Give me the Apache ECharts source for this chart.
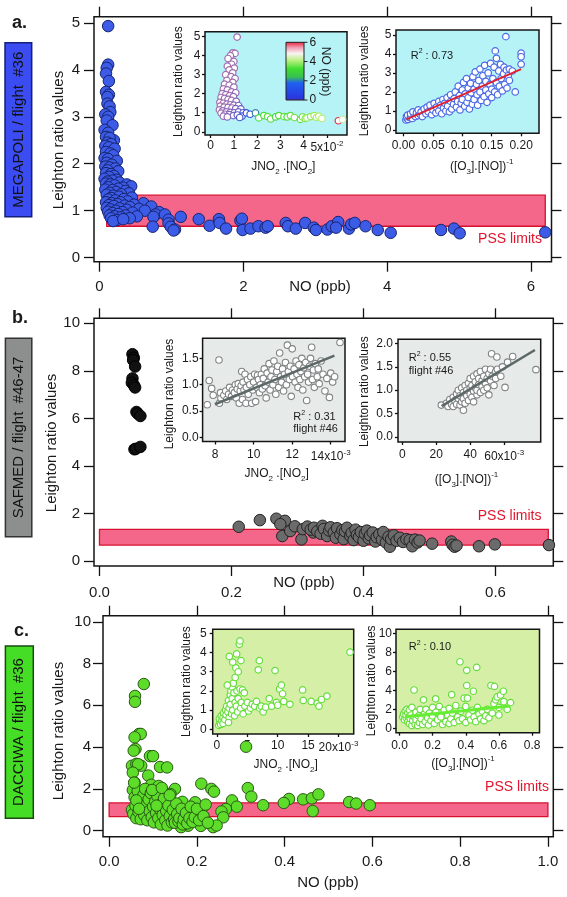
<!DOCTYPE html>
<html><head><meta charset="utf-8">
<script src="https://cdn.jsdelivr.net/npm/echarts@6/dist/echarts.min.js"></script>
<style>html,body{margin:0;padding:0;background:#fff}#c{width:567px;height:897px}</style>
</head><body><div id="c"></div>
<script>
// ---------------- DATA ----------------
// Panel a (MEGAPOLI) main: [NO ppb, Leighton ratio]
const aMain = [[0.12,4.93],[0.12,4.11],[0.10,4.04],[0.09,3.92],[0.13,3.76],[0.09,3.53],[0.13,3.47],[0.11,3.42],[0.11,3.28],[0.14,3.22],[0.15,3.10],[0.08,3.05],[0.12,3.0],
[0.10,2.92],[0.18,2.82],[0.07,2.72],[0.12,2.66],[0.09,2.57],[0.2,2.5],[0.14,2.55],[0.11,2.45],[0.16,2.42],[0.08,2.38],[0.13,2.35],[0.21,2.32],
[0.09,2.25],[0.15,2.22],[0.19,2.18],[0.07,2.12],[0.12,2.1],[0.24,2.06],[0.1,2.02],[0.17,1.98],[0.08,1.94],[0.14,1.92],[0.22,1.9],[0.11,1.86],[0.26,1.84],[0.09,1.8],[0.16,1.78],[0.2,1.74],[0.13,1.72],[0.07,1.68],[0.24,1.66],[0.18,1.64],[0.11,1.62],
[0.28,1.6],[0.09,1.58],[0.15,1.56],[0.38,1.56],[0.21,1.54],[0.44,1.52],[0.12,1.5],[0.33,1.49],[0.26,1.47],[0.08,1.45],[0.18,1.44],[0.36,1.42],[0.23,1.4],[0.14,1.38],[0.41,1.37],[0.3,1.35],[0.1,1.34],[0.19,1.32],[0.27,1.3],[0.45,1.28],[0.16,1.27],[0.34,1.25],[0.12,1.24],[0.22,1.22],[0.39,1.2],
[0.09,1.18],[0.29,1.18],[0.17,1.16],[0.61,1.16],[0.25,1.14],[0.48,1.13],[0.13,1.12],[0.35,1.11],[0.2,1.1],[0.72,1.09],[0.42,1.08],[0.1,1.06],[0.28,1.05],[0.55,1.04],[0.15,1.03],[0.38,1.02],[0.23,1.0],[0.63,1.0],[0.12,0.98],[0.32,0.97],[0.46,0.96],[0.18,0.95],[0.83,0.97],[0.26,0.93],[0.78,0.92],[0.91,0.92],[0.14,0.9],[0.36,0.9],[0.21,0.88],[0.52,0.88],[0.3,0.86],[0.16,0.84],[0.42,0.84],[0.96,0.81],[0.24,0.8],[0.19,0.78],[0.75,0.87],[0.33,0.82],
[0.74,0.66],[0.96,0.73],[0.99,0.66],[1.05,0.6],[1.03,0.58],[1.13,0.87],[1.38,0.82],[1.53,0.68],[1.66,0.82],[1.67,0.74],[1.76,0.62],[1.96,0.79],[1.98,0.83],[1.99,0.59],[2.1,0.62],[2.21,0.67],[2.31,0.64],[2.34,0.67],[2.59,0.74],[2.62,0.67],[2.73,0.62],[2.86,0.74],[2.98,0.64],[3.01,0.59],[3.17,0.6],[3.23,0.67],[3.32,0.76],[3.29,0.64],[3.47,0.62],[3.5,0.71],[3.55,0.74],[3.7,0.67],[3.87,0.59],[4.05,0.53],[4.75,0.59],[4.93,0.62],[5.01,0.52],[6.2,0.54]];

// Inset a1: [JNO2.[NO2] (x1e-2), ratio, NO ppb (colour)]
const a1Pts = [[1.14,4.98,0.12],[0.95,4.15,0.12],[1.05,4.12,0.11],[0.85,4.0,0.1],[0.75,3.85,0.09],[1.0,3.7,0.13],[0.9,3.55,0.09],[0.72,3.45,0.13],[1.02,3.35,0.11],[0.8,3.25,0.11],[0.95,3.1,0.14],[0.65,3.0,0.08],[0.88,2.9,0.1],[1.05,2.8,0.18],[0.7,2.7,0.07],[0.95,2.6,0.09],[0.6,2.5,0.14],[0.8,2.45,0.11],[1.0,2.35,0.16],[0.55,2.25,0.08],[0.72,2.2,0.15],[0.9,2.1,0.12],[1.08,2.05,0.24],[0.5,2.0,0.1],[0.65,1.95,0.17],[0.82,1.9,0.14],[0.98,1.85,0.22],[0.45,1.8,0.09],[0.6,1.75,0.16],[0.75,1.7,0.2],[0.9,1.65,0.13],[1.1,1.6,0.28],[0.4,1.55,0.09],[0.55,1.5,0.15],[0.7,1.45,0.21],[0.85,1.42,0.12],[1.0,1.4,0.33],[1.2,1.38,0.44],[0.42,1.35,0.08],[0.58,1.3,0.18],[0.75,1.28,0.23],[0.92,1.25,0.14],[1.08,1.22,0.38],[1.3,1.2,0.6],[0.38,1.15,0.1],[0.52,1.1,0.19],[0.68,1.05,0.25],[0.85,1.02,0.3],[1.02,1.0,0.45],[1.2,1.05,0.5],[1.4,1.0,0.7],[0.45,0.98,0.15],[0.62,0.92,0.22],[0.8,0.9,0.35],[0.98,0.85,0.42],[1.15,0.88,0.6],[1.35,0.82,0.85],[0.55,0.82,0.2],[0.72,0.78,0.3],[1.25,0.75,0.78],
[1.54,0.99,1.0],[1.7,0.92,1.1],[1.93,0.99,1.5],[2.07,0.73,2.9],[2.29,0.85,3.0],[2.45,0.8,3.2],[2.58,0.67,3.1],[2.79,0.78,2.8],[2.93,0.85,3.0],[3.15,0.8,3.3],[3.29,0.78,3.0],[3.43,0.85,3.2],[3.6,0.75,3.4],[3.86,0.65,3.1],[3.95,0.78,3.5],[4.07,0.7,3.6],[4.14,0.73,3.8],[4.3,0.8,3.7],[4.45,0.85,3.9],[4.55,0.75,4.0],[4.65,0.82,4.1],[4.78,0.7,4.2],[5.49,0.58,6.2],[5.67,0.65,4.4]];

// Inset a2: [([O3].[NO])^-1, ratio]
const a2Pts = [[0.004,0.52],[0.006,0.6],[0.005,0.7],[0.008,0.55],[0.01,0.65],[0.007,0.78],[0.012,0.72],[0.015,0.6],[0.012,0.85],[0.018,0.8],[0.02,0.7],[0.016,0.95],[0.022,0.9],[0.025,0.75],[0.028,0.82],[0.025,1.05],[0.03,0.95],[0.032,0.7],[0.035,1.1],[0.038,0.85],
[0.04,1.2],[0.042,0.95],[0.045,1.3],[0.048,0.8],[0.05,1.05],[0.052,1.4],[0.055,0.9],[0.056,1.2],[0.06,1.5],[0.06,1.0],[0.063,1.3],[0.065,0.85],[0.067,1.6],[0.068,1.15],[0.07,1.4],[0.072,1.0],[0.074,1.7],[0.075,1.25],[0.078,0.95],[0.08,1.5],[0.08,1.85],[0.082,1.1],
[0.085,1.35],[0.086,1.65],[0.088,2.0],[0.09,1.2],[0.092,1.5],[0.093,2.3],[0.095,1.8],[0.096,1.05],[0.098,1.4],[0.1,2.1],[0.1,1.6],[0.102,2.5],[0.104,1.25],[0.105,1.9],[0.107,2.7],[0.108,1.45],[0.11,2.2],[0.11,1.7],[0.112,1.1],[0.114,2.45],[0.115,1.95],[0.117,1.35],[0.118,2.8],[0.12,2.15],[0.12,1.6],
[0.122,3.05],[0.124,2.4],[0.125,1.85],[0.126,1.3],[0.128,2.6],[0.13,2.0],[0.13,3.2],[0.132,1.55],[0.134,2.3],[0.135,2.85],[0.137,1.75],[0.138,3.4],[0.14,2.1],[0.14,2.55],[0.142,1.45],[0.144,3.0],[0.145,1.9],[0.147,2.4],[0.148,3.5],[0.15,2.15],[0.15,1.7],[0.152,2.7],[0.154,3.3],[0.155,2.0],[0.156,4.16],[0.158,3.77],[0.158,2.5],[0.16,1.85],
[0.162,3.1],[0.163,2.3],[0.165,3.45],[0.166,2.7],[0.168,2.05],[0.17,2.95],[0.171,3.3],[0.172,2.4],[0.174,4.91],[0.175,3.15],[0.176,2.2],[0.178,2.85],[0.18,3.2],[0.18,2.6],[0.185,3.1],[0.19,2.0],[0.2,4.04],[0.2,3.85],[0.2,3.46]];
const fitA2 = [[0.005,0.55],[0.2,3.2]];

// Panel b (SAFMED) main
const bBlack = [[0.05,8.7],[0.052,8.55],[0.051,8.45],[0.054,8.18],[0.05,7.68],[0.049,7.5],[0.052,7.4],[0.054,7.3],[0.056,6.27],[0.058,6.2],[0.062,6.1],[0.053,4.7],[0.055,4.72],[0.062,4.8]];
const bGray = [[0.211,1.44],[0.243,1.72],[0.268,1.78],[0.281,1.69],[0.274,1.55],[0.277,1.05],[0.289,1.26],[0.296,1.46],[0.306,0.91],[0.308,1.34],[0.324,1.2],
[0.315,1.45],[0.32,1.32],[0.325,1.4],[0.33,1.25],[0.335,1.15],[0.338,1.48],[0.34,1.35],[0.345,1.05],[0.348,1.28],[0.35,1.42],[0.355,1.2],[0.358,0.98],[0.36,1.38],[0.365,1.12],[0.368,1.3],[0.37,0.92],[0.372,1.25],[0.375,1.4],[0.38,1.05],[0.382,1.18],[0.385,0.88],[0.388,1.32],[0.39,1.1],[0.393,1.0],[0.396,1.22],[0.4,0.85],[0.402,1.15],[0.405,1.28],[0.408,0.95],[0.41,1.08],[0.414,1.2],[0.418,0.82],[0.42,1.0],[0.424,1.12],[0.428,0.9],[0.43,1.22],[0.434,0.78],[0.438,1.02],[0.44,0.6],[0.442,0.92],[0.446,1.08],[0.45,0.85],[0.455,0.98],[0.46,0.8],[0.465,0.92],[0.47,0.88],[0.474,0.62],[0.478,0.9],[0.482,0.78],[0.485,0.86],
[0.504,0.73],[0.533,0.82],[0.535,0.68],[0.538,0.6],[0.541,0.65],[0.575,0.62],[0.599,0.7],[0.681,0.67]];

// Inset b1: [JNO2.[NO2] (x1e-3), ratio]
const b1Pts = [[7.59,0.62],[7.69,1.08],[7.82,0.93],[7.9,0.8],[8.2,1.47],[8.22,0.65],[8.3,0.75],[8.28,0.85],[8.45,0.8],[8.55,0.88],[8.6,0.72],[8.7,0.82],[8.75,0.95],[8.85,0.78],[8.9,0.9],[9.0,0.85],[9.05,1.0],[9.1,0.75],[9.15,0.92],[9.2,1.02],[9.25,0.65],[9.3,0.88],[9.35,0.98],[9.38,1.25],[9.42,0.72],[9.45,1.05],[9.5,0.9],[9.55,1.2],[9.6,0.65],[9.62,0.95],[9.68,1.1],[9.72,0.82],[9.8,1.0],[9.85,1.15],[9.9,0.65],[9.95,0.9],[10.0,1.05],[10.05,1.2],[10.1,0.68],[10.15,0.95],[10.2,1.18],[10.25,1.1],[10.3,0.85],[10.35,1.0],[10.4,1.2],[10.45,0.92],[10.5,1.12],[10.55,1.3],[10.6,0.98],[10.65,0.75],[10.7,1.22],[10.75,1.05],[10.8,1.4],[10.85,0.9],[10.9,1.15],[10.95,1.28],[11.0,1.0],[11.05,1.45],[11.1,1.1],[11.15,0.82],[11.2,1.25],[11.25,1.35],[11.3,0.95],[11.35,1.6],[11.4,1.15],[11.45,1.05],[11.5,1.3],[11.55,0.88],[11.6,1.2],[11.65,1.42],[11.7,1.0],[11.75,1.75],[11.8,1.25],[11.85,1.1],[11.9,1.35],[11.95,0.78],[12.0,1.68],[12.02,1.15],[12.1,1.3],[12.15,1.05],[12.2,1.45],[12.25,1.2],[12.3,0.95],[12.35,1.38],[12.4,1.1],[12.45,1.25],[12.5,1.5],[12.55,0.9],[12.6,1.32],[12.65,1.15],[12.7,1.42],[12.75,0.7],[12.8,1.2],[12.85,1.05],[12.9,1.35],[12.95,1.5],[13.01,1.71],[13.05,1.1],[13.1,1.28],[13.15,0.95],[13.2,1.4],[13.3,1.15],[13.35,1.3],[13.4,1.02],[13.5,1.45],[13.6,1.2],[13.7,0.88],[13.8,1.12],[13.93,0.76],[14.0,1.22],[14.1,1.05],[14.2,1.15],[14.48,1.8]];
const fitB1 = [[7.99,0.63],[14.19,1.55]];

// Inset b2: [([O3].[NO])^-1 (x1e-3), ratio]
const b2Pts = [[23,0.68],[26,0.72],[27,0.65],[28,0.8],[29,0.7],[30,0.85],[30,0.65],[31,0.78],[32,0.92],[32,0.7],[33,0.82],[33,1.0],[34,0.68],[34,0.88],[35,0.75],[35,1.05],[36,0.95],[36,0.57],[36,0.82],[37,1.1],[37,0.72],[38,0.88],[38,1.0],[39,1.15],[39,0.78],[40,0.92],[40,1.05],[40,1.25],[41,0.85],[41,1.1],[42,0.98],[42,1.3],[42,0.75],[43,1.05],[43,1.18],[44,0.9],[44,1.35],[44,1.0],[45,1.12],[45,1.25],[46,0.95],[46,1.4],[47,1.08],[47,1.2],[48,1.3],[48,1.0],[49,1.15],[49,1.45],[50,1.25],[50,1.05],[51,0.9],[51,1.35],[52,1.2],[52,1.45],[53,1.3],[54,1.1],[55,1.4],[55,1.25],[56,1.45],[52.6,1.78],[55.7,1.71],[58,1.3],[59,1.5],[60.5,1.06],[62,1.6],[65,1.72],[78.7,1.44]];
const fitB2 = [[23.2,0.66],[78.1,1.86]];

// Panel c (DACCIWA) main
const cMain = [[0.079,7.02],[0.059,6.45],[0.059,6.17],[0.068,4.63],[0.072,4.63],[0.058,4.47],[0.06,3.91],[0.056,3.83],[0.093,3.57],[0.1,3.57],[0.073,3.11],[0.052,3.11],[0.116,3.05],[0.132,3.03],[0.062,3.2],[0.066,3.18],[0.054,2.78],[0.089,2.64],[0.058,2.3],[0.054,1.95],[0.096,2.2],[0.113,2.14],[0.13,1.78],[0.15,2.0],[0.21,2.25],[0.233,2.0],[0.239,1.87],[0.316,2.04],[0.324,1.63],[0.28,1.45],[0.41,1.52],[0.398,1.33],[0.442,1.5],[0.462,1.55],[0.477,1.74],[0.464,0.94],[0.547,1.37],[0.563,1.3],[0.594,1.22],[0.351,1.22],[0.291,1.15],[0.266,1.04],[0.256,0.92],[0.26,0.64],[0.237,0.17],[0.245,0.25],[0.209,0.23],[0.2,0.79],[0.213,1.12],[0.196,1.36],[0.18,0.24],[0.164,0.17],[0.167,1.38],[0.312,4.02],
[0.052,1.0],[0.055,0.8],[0.058,1.6],[0.06,1.2],[0.062,0.6],[0.065,1.9],[0.067,0.9],[0.07,1.35],[0.072,0.55],[0.075,1.1],[0.078,1.7],[0.08,0.75],[0.082,2.0],[0.085,1.25],[0.087,0.5],[0.09,1.5],[0.092,0.95],[0.095,1.8],[0.097,0.65],[0.1,1.15],[0.102,0.4],[0.105,1.4],[0.107,0.85],[0.11,1.65],[0.112,0.6],[0.115,1.05],[0.118,0.3],[0.12,1.3],[0.122,0.75],[0.125,1.55],[0.128,0.5],[0.13,0.95],[0.133,0.25],[0.135,1.2],[0.138,0.7],[0.14,1.75],[0.143,0.4],[0.145,1.0],[0.148,0.55],[0.15,0.38],[0.153,1.3],[0.155,0.8],[0.158,0.45],[0.16,0.6],[0.165,1.05],[0.168,0.3],[0.17,0.55],[0.175,0.85],[0.178,0.35],[0.183,0.6],[0.186,1.15],[0.19,0.42],[0.195,0.65],[0.2,1.05],[0.205,0.5],[0.062,1.45],[0.068,1.05],[0.057,2.3],[0.098,1.95],[0.108,1.2],[0.12,2.05],[0.138,1.7],[0.215,0.7],[0.22,1.25],[0.225,0.38]];

// Inset c1: [JNO2.[NO2] (x1e-3), ratio]
const c1Pts = [[0.3,0.2],[0.5,0.35],[0.4,0.55],[0.6,0.25],[0.8,0.45],[0.7,0.7],[1.0,0.3],[1.0,0.6],[1.1,0.85],[1.3,0.5],[1.4,1.0],[1.5,0.75],[1.6,1.2],[1.8,0.9],[1.9,1.5],[2.0,1.1],[2.0,0.6],[2.2,1.8],[2.2,1.3],[2.3,2.0],[2.4,0.8],[2.5,2.2],[2.5,1.6],[2.6,1.0],[2.7,2.4],[2.8,1.9],[2.9,0.7],[3.0,1.4],[3.0,2.7],[3.1,3.2],[3.2,1.2],[3.24,3.93],[3.3,2.0],[3.4,0.9],[3.5,3.0],[3.5,1.6],[3.68,4.43],[3.79,4.61],[3.8,2.1],[3.9,1.1],[3.95,3.58],[4.0,1.4],[4.2,2.05],[4.3,0.8],[4.5,1.9],[4.6,1.2],[5.0,1.4],[5.2,0.95],[5.5,1.1],[5.8,1.3],[6.2,1.2],[6.5,1.45],[6.8,3.1],[6.97,3.58],[7.0,1.1],[7.3,1.2],[7.6,0.9],[8.0,1.15],[8.6,1.6],[9.0,1.2],[9.56,3.06],[9.8,1.4],[10.0,1.25],[10.3,2.1],[10.6,2.3],[10.8,1.85],[11.0,1.45],[12.0,1.3],[14.1,2.05],[14.2,1.5],[15.5,1.45],[16.5,1.35],[16.8,1.2],[17.2,1.55],[18.1,1.73],[21.9,4.02],[2.03,3.8],[1.7,2.3],[2.6,3.5],[1.9,0.35]];

// Inset c2: [([O3].[NO])^-1, ratio]
const c2Pts = [[0.02,1.2],[0.025,1.5],[0.03,0.9],[0.035,1.8],[0.04,1.1],[0.04,1.4],[0.045,2.0],[0.05,0.7],[0.05,1.6],[0.055,1.2],[0.06,0.5],[0.06,1.9],[0.065,1.0],[0.07,1.4],[0.075,0.3],[0.075,2.2],[0.08,0.8],[0.088,4.03],[0.09,1.2],[0.095,0.4],[0.1,1.7],[0.1,0.9],[0.11,0.3],[0.115,1.3],[0.12,0.6],[0.125,2.0],[0.13,1.0],[0.14,0.4],[0.145,3.0],[0.15,1.5],[0.155,0.7],[0.16,2.0],[0.17,1.1],[0.175,0.35],[0.18,1.6],[0.19,0.8],[0.2,2.2],[0.2,1.3],[0.21,0.5],[0.218,3.1],[0.22,1.7],[0.23,0.9],[0.24,2.3],[0.25,1.2],[0.26,0.4],[0.27,1.9],[0.28,0.7],[0.29,1.4],[0.3,2.1],[0.3,0.5],[0.31,1.0],[0.315,3.55],[0.32,1.6],[0.33,0.6],[0.34,2.4],[0.35,1.2],[0.36,0.8],[0.365,7.0],[0.37,1.8],[0.38,1.0],[0.39,3.17],[0.4,2.3],[0.4,0.6],[0.406,6.1],[0.406,4.5],[0.41,3.17],[0.42,1.4],[0.43,0.9],[0.44,1.9],[0.446,3.9],[0.45,1.2],[0.46,0.7],[0.466,6.4],[0.47,2.2],[0.48,1.5],[0.49,1.0],[0.5,1.8],[0.51,0.8],[0.52,1.3],[0.53,2.0],[0.54,1.1],[0.552,4.5],[0.56,1.6],[0.573,4.4],[0.57,2.6],[0.58,3.0],[0.59,3.3],[0.6,2.2],[0.6,1.4],[0.61,3.5],[0.627,3.9],[0.63,2.8],[0.65,2.0],[0.67,2.7]];
const fitC2 = [[0.033,1.22],[0.667,2.35]];

// PSS limits band and extents
const pssLimits = [0.67, 1.33];
const aBandNO = [0.1, 6.2];
const bBandNO = [0.0, 0.68];
const cBandNO = [0.0, 1.0];

// Tick values
const aMainXTicks = [0,2,4,6], aMainYTicks = [0,1,2,3,4,5];
const bMainXTicks = [0,0.2,0.4,0.6], bMainYTicks = [0,2,4,6,8,10];
const cMainXTicks = [0,0.2,0.4,0.6,0.8,1.0], cMainYTicks = [0,2,4,6,8,10];
const a1XTicks = [0,1,2,3,4,5], a1YTicks = [0,1,2,3,4,5];
const a2XTicks = [0,0.05,0.1,0.15,0.2], a2YTicks = [0,1,2,3,4,5];
const b1XTicks = [8,10,12,14], b1YTicks = [0,0.5,1,1.5];
const b2XTicks = [0,20,40,60], b2YTicks = [0,0.5,1,1.5,2];
const c1XTicks = [0,5,10,15,20], c1YTicks = [0,1,2,3,4,5];
const c2XTicks = [0,0.2,0.4,0.6,0.8], c2YTicks = [0,2,4,6,8,10];
const colorbarTicks = [0,2,4,6];

// ---------------- BUILD ----------------
const FONT = 'Liberation Sans';
const TXT = '#1a1a1a';
const grids=[], xAxes=[], yAxes=[], series=[], graphics=[];

function axisBase(gi, min, max, pos, ticks, len, showLabel, fmt, margin, fs, rich){
  return { gridIndex: gi, type:'value', min, max, position: pos,
    axisLine:{show:false, onZero:false}, splitLine:{show:false},
    axisTick:{show:true, inside:false, length:len, customValues:ticks, lineStyle:{color:'#111', width:1.3}},
    axisLabel:{show:showLabel, customValues:ticks, formatter:fmt, margin:margin||8, fontSize:fs||12,
      color:TXT, fontFamily:FONT, rich:rich} };
}
function panel(box, xr, yr, xt, yt, xfmt, yfmt, o){
  grids.push({left:box[0], top:box[1], width:box[2], height:box[3], show:true,
    backgroundColor:o.bg||'transparent', borderColor:'#151515', borderWidth:1.5});
  const gi = grids.length-1;
  const xi = xAxes.length; xAxes.push(axisBase(gi, xr[0], xr[1], 'bottom', xt, o.tl, true, xfmt, o.xm, o.fs, o.xrich));
  const yi = yAxes.length; yAxes.push(axisBase(gi, yr[0], yr[1], 'left', yt, o.tl, true, yfmt, o.ym, o.fs));
  if (o.mirror){
    xAxes.push(axisBase(gi, xr[0], xr[1], 'top', xt, o.tl, false));
    yAxes.push(axisBase(gi, yr[0], yr[1], 'right', yt, o.tl, false));
  }
  return {xi, yi};
}
const supRich = {
  b:{fontSize:12, fontFamily:FONT, color:TXT, lineHeight:16},
  p:{fontSize:8, fontFamily:FONT, color:TXT, lineHeight:9, verticalAlign:'top'}
};
const f0 = v => String(v), f1 = v => v.toFixed(1), f2 = v => v.toFixed(2);
const expFmt = (last, exp) => v => v === last ? '{b|' + v + 'x10}{p|' + exp + '}' : String(v);

const pA  = panel([94,16.7,457.5,245], [-0.077,6.287], [-0.085,5.13], aMainXTicks, aMainYTicks, f0, f0, {tl:10, xm:18, ym:14, fs:15, mirror:true});
const pA1 = panel([205,31.7,142,103.3], [-0.24,5.86], [-0.17,5.26], a1XTicks, a1YTicks, expFmt(5,'-2'), f0, {tl:3, xm:5, ym:4.5, fs:12, bg:'#b6f3f7', xrich:supRich});
const pA2 = panel([396,30,143,103.3], [-0.0128,0.2304], [-0.18,5.26], a2XTicks, a2YTicks, f2, f0, {tl:3, xm:6, ym:4.5, fs:12, bg:'#b6f3f7'});
const pB  = panel([94,318.3,459.3,247.7], [-0.0083,0.6876], [-0.21,10.21], bMainXTicks, bMainYTicks, f1, f0, {tl:10, xm:19, ym:14, fs:15, mirror:true});
const pB1 = panel([202.6,338.3,142.4,103.2], [7.35,14.74], [-0.076,1.88], b1XTicks, b1YTicks, expFmt(14,'-3'), f1, {tl:3, xm:7, ym:4, fs:12, bg:'#e6eae9', xrich:supRich});
const pB2 = panel([398,339.3,142.7,102.7], [-2.5,81.5], [-0.11,2.09], b2XTicks, b2YTicks, expFmt(60,'-3'), f1, {tl:3, xm:7, ym:5, fs:12, bg:'#e6eae9', xrich:supRich});
const pC  = panel([103,615.7,450.3,221], [-0.014,1.0123], [-0.287,10.29], cMainXTicks, cMainYTicks, f1, f0, {tl:10, xm:18, ym:12, fs:15, mirror:true});
const pC1 = panel([212.7,629.2,141,104.8], [-0.7,22.5], [-0.25,5.22], c1XTicks, c1YTicks, expFmt(20,'-3'), f0, {tl:3, xm:6, ym:6, fs:12, bg:'#d5f0a6', xrich:supRich});
const pC2 = panel([396,629.3,143.5,103.4], [-0.021,0.845], [-0.46,10.41], c2XTicks, c2YTicks, f1, f0, {tl:3, xm:7, ym:4, fs:12, bg:'#d5f0a6'});

// PSS band drawn by a custom series (beneath the points)
function band(p, xr){
  series.push({type:'custom', xAxisIndex:p.xi, yAxisIndex:p.yi, z:1, silent:true,
    data:[[xr[0], xr[1], pssLimits[0], pssLimits[1]]], encode:{x:[0,1], y:[2,3]},
    renderItem:(params, api)=>{
      const tl = api.coord([api.value(0), api.value(3)]);
      const br = api.coord([api.value(1), api.value(2)]);
      return {type:'rect', shape:{x:tl[0], y:tl[1], width:br[0]-tl[0], height:br[1]-tl[1]},
        style:{fill:'#f4678a', stroke:'#d8102e', lineWidth:1.3}};
    }});
}
function dots(p, data, size, fill, border, bw, z){
  series.push({type:'scatter', xAxisIndex:p.xi, yAxisIndex:p.yi, data, symbolSize:size, z:z||3, silent:true,
    itemStyle:{color:fill, borderColor:border, borderWidth:bw, opacity:1}});
}
function fit(p, data, color, w){
  series.push({type:'line', xAxisIndex:p.xi, yAxisIndex:p.yi, data, symbol:'none', z:5, silent:true,
    lineStyle:{color, width:w}});
}

// colour scale for NO in inset a1
const noStops=[0,1,2,3,4,5,6], noCols=['#b070a8','#3050e0','#40b878','#48dd38','#a8ee60','#f2eee6','#e03050'];
function hex2rgb(h){return [1,3,5].map(i=>parseInt(h.substr(i,2),16));}
function noColor(v){
  v=Math.max(0,Math.min(6,v)); let i=Math.min(5,Math.floor(v)); const t=v-noStops[i];
  const a=hex2rgb(noCols[i]), b=hex2rgb(noCols[i+1]);
  return 'rgb('+a.map((c,k)=>Math.round(c+(b[k]-c)*t)).join(',')+')';
}

band(pA, aBandNO);
dots(pA, aMain, 11.5, '#3c5be6', '#172470', 1);
series.push({type:'scatter', xAxisIndex:pA1.xi, yAxisIndex:pA1.yi, symbolSize:6.5, z:3, silent:true,
  itemStyle:{color:'#ffffff', borderWidth:1.2, opacity:1},
  data:a1Pts.map(p=>({value:[p[0],p[1]], itemStyle:{borderColor:noColor(p[2])}}))});
dots(pA2, a2Pts, 6.5, '#ffffff', '#4a68e6', 1.2);
fit(pA2, fitA2, '#e02030', 2);

band(pB, bBandNO);
dots(pB, bBlack, 11.5, '#111111', '#000000', 1);
dots(pB, bGray, 11.5, '#6b6b6b', '#222222', 1);
dots(pB1, b1Pts, 6.5, '#ffffff', '#808484', 1.1);
fit(pB1, fitB1, '#5d6868', 2.5);
dots(pB2, b2Pts, 6.5, '#ffffff', '#808484', 1.1);
fit(pB2, fitB2, '#5d6868', 2.5);

band(pC, cBandNO);
dots(pC, cMain, 11.5, '#5ddc2a', '#2a5a14', 1);
dots(pC1, c1Pts, 6.5, '#ffffff', '#66dd3a', 1.2);
dots(pC2, c2Pts, 6.5, '#ffffff', '#66dd3a', 1.2);
fit(pC2, fitC2, '#66ee33', 3);

// ---------------- TEXT / DECOR ----------------
function T(text, x, y, size, o){
  o=o||{};
  return {type:'text', x, y, rotation:o.rot||0, z:100, silent:true,
    style:{text, fontSize:size, fontFamily:FONT, fontWeight:o.bold?'bold':'normal', fill:o.color||TXT,
      align:o.align||'center', verticalAlign:o.va||'middle', rich:o.rich}};
}
const R90 = Math.PI/2;
const rich12 = {
  n:{fontSize:12, fontFamily:FONT, fill:TXT, lineHeight:18},
  s:{fontSize:8, fontFamily:FONT, fill:TXT, lineHeight:9, verticalAlign:'bottom'},
  p:{fontSize:8, fontFamily:FONT, fill:TXT, lineHeight:9, verticalAlign:'top'}
};
const rich11 = {
  n:{fontSize:11, fontFamily:FONT, fill:TXT, lineHeight:16},
  p:{fontSize:7, fontFamily:FONT, fill:TXT, lineHeight:8, verticalAlign:'top'}
};
const jno2 = '{n|JNO}{s|2}{n| .[NO}{s|2}{n|]}';
const o3no = '{n|([O}{s|3}{n|].[NO])}{p|-1}';

// panel letters
graphics.push(T('a.', 12, 23, 18, {bold:true, align:'left'}));
graphics.push(T('b.', 12, 318, 18, {bold:true, align:'left'}));
graphics.push(T('c.', 14, 631, 18, {bold:true, align:'left'}));
// campaign boxes
graphics.push({type:'rect', z:90, silent:true, shape:{x:5, y:42.7, width:26.7, height:174}, style:{fill:'#3a4cf2', stroke:'#14207a', lineWidth:1.5}});
graphics.push({type:'rect', z:90, silent:true, shape:{x:5.4, y:338.3, width:26.4, height:198.4}, style:{fill:'#8d8f8e', stroke:'#333333', lineWidth:1.5}});
graphics.push({type:'rect', z:90, silent:true, shape:{x:5.4, y:646, width:27.9, height:172.3}, style:{fill:'#46dd26', stroke:'#1a4a10', lineWidth:1.5}});
graphics.push(T('MEGAPOLI / flight  #36', 18.5, 129.7, 15, {rot:R90, color:'#111'}));
graphics.push(T('SAFMED / flight  #46-47', 18.6, 437.5, 15, {rot:R90, color:'#111'}));
graphics.push(T('DACCIWA / flight  #36', 19.3, 732, 15, {rot:R90, color:'#111'}));
// main axis titles
graphics.push(T('Leighton ratio values', 58.5, 140, 15, {rot:R90}));
graphics.push(T('NO (ppb)', 320, 286.7, 15));
graphics.push(T('Leighton ratio values', 51.5, 443, 15, {rot:R90}));
graphics.push(T('NO (ppb)', 304, 583.3, 15));
graphics.push(T('Leighton ratio values', 58.5, 731, 15, {rot:R90}));
graphics.push(T('NO (ppb)', 328, 883.3, 15));
// PSS labels
graphics.push(T('PSS limits', 510, 239.3, 14, {color:'#e0142c'}));
graphics.push(T('PSS limits', 509.6, 515.7, 14, {color:'#e0142c'}));
graphics.push(T('PSS limits', 517, 786.7, 14, {color:'#e0142c'}));
// inset titles
graphics.push(T('Leighton ratio values', 178.3, 81.7, 12, {rot:R90}));
graphics.push(T(jno2, 283.3, 166.7, 12, {rich:rich12}));
graphics.push(T('Leighton ratio values', 365, 81, 12, {rot:R90}));
graphics.push(T(o3no, 481.7, 166.7, 12, {rich:rich12}));
graphics.push(T('{n|R}{p|2}{n| : 0.73}', 410.7, 55.7, 11, {align:'left', rich:rich11}));

graphics.push(T('Leighton ratio values', 170, 394, 12, {rot:R90}));
graphics.push(T(jno2, 276.7, 473.3, 12, {rich:rich12}));
graphics.push(T('{n|R}{p|2}{n| : 0.31}', 293.3, 417.3, 11, {align:'left', rich:rich11}));
graphics.push(T('flight #46', 293.3, 429.3, 11, {align:'left'}));
graphics.push(T('Leighton ratio values', 364.5, 391.7, 12, {rot:R90}));
graphics.push(T(o3no, 466.5, 479.3, 12, {rich:rich12}));
graphics.push(T('{n|R}{p|2}{n| : 0.55}', 408.7, 358.3, 11, {align:'left', rich:rich11}));
graphics.push(T('flight #46', 408.7, 370.7, 11, {align:'left'}));

graphics.push(T('Leighton ratio values', 187, 681.7, 12, {rot:R90}));
graphics.push(T(jno2, 285.7, 765, 12, {rich:rich12}));
graphics.push(T('Leighton ratio values', 371.5, 680.8, 12, {rot:R90}));
graphics.push(T(o3no, 463, 763.3, 12, {rich:rich12}));
graphics.push(T('{n|R}{p|2}{n| : 0.10}', 408.7, 647.3, 11, {align:'left', rich:rich11}));

// colour bar for inset a1
const cbX=286, cbY=42.3, cbW=18, cbH=57.7;
graphics.push({type:'rect', z:95, silent:true, shape:{x:cbX, y:cbY, width:cbW, height:cbH},
  style:{stroke:'#222', lineWidth:1, fill:{type:'linear', x:0, y:0, x2:0, y2:1, colorStops:[
    {offset:0,color:'#e8203c'},{offset:0.1,color:'#f3a0b4'},{offset:0.2,color:'#f8f4f2'},{offset:0.32,color:'#b8f080'},
    {offset:0.46,color:'#40dd30'},{offset:0.6,color:'#38c050'},{offset:0.7,color:'#2060f0'},{offset:0.95,color:'#2838e0'},{offset:1,color:'#5030c0'}]}}});
colorbarTicks.forEach(v=>{
  const y = cbY + cbH - v/6*cbH;
  graphics.push({type:'line', z:95, silent:true, shape:{x1:cbX+cbW, y1:y, x2:cbX+cbW+3.5, y2:y}, style:{stroke:'#222', lineWidth:1}});
  graphics.push(T(String(v), cbX+cbW+5.5, y, 12, {align:'left'}));
});
graphics.push(T('NO (ppb)', 325, 71.5, 12, {rot:-R90}));

const chart = echarts.init(document.getElementById('c'), null, {renderer:'canvas'});
chart.setOption({animation:false, backgroundColor:'#ffffff', grid:grids, xAxis:xAxes, yAxis:yAxes, series, graphic:graphics});
</script></body></html>
